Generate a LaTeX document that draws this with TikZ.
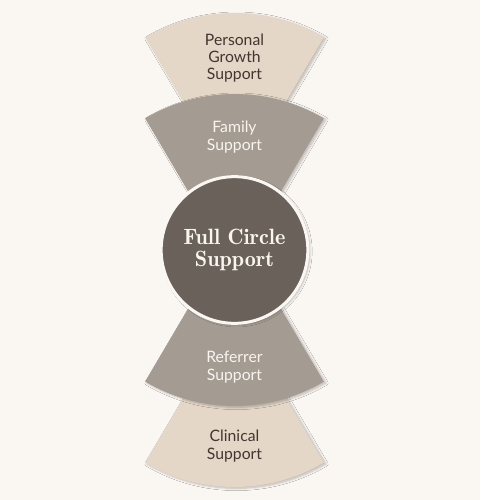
\documentclass[tikz,border=0pt]{standalone}
\usepackage{fontspec}
\newfontfamily\latofont{Lato}
\newfontfamily\hubfont{lmromandemi10-regular.otf}
\usetikzlibrary{shadows.blur}
\definecolor{paper}{RGB}{250,246,242}
\definecolor{sandfill}{RGB}{228,215,199}
\definecolor{taupefill}{RGB}{164,156,146}
\definecolor{hubfill}{RGB}{106,97,90}
\definecolor{darktext}{RGB}{66,55,48}
\definecolor{lighttext}{RGB}{248,244,238}
\begin{document}
\begin{tikzpicture}
[x=0.75pt,y=0.75pt,
  sectordecorate/.style={blur shadow={shadow xshift=1.5pt,shadow yshift=-1pt,shadow blur steps=6,shadow opacity=25}},
  labeldecorate/.style={align=center,font=\latofont\fontsize{11.8}{13}\selectfont},
  huddecorate/.style={shape=circle,draw=paper,line width=2.25pt,fill=hubfill,
    minimum size=110pt,inner sep=0pt,text=lighttext,align=center,
    font=\hubfont\fontsize{16.6}{17}\selectfont,
    blur shadow={shadow xshift=1.5pt,shadow yshift=-1pt,shadow blur steps=6,shadow opacity=25}}]
\fill[paper] (-234.5,-250) rectangle (245.5,250);
%% sectors, back ones first
\foreach \secname/\apex/\mid/\secfill in {personal/61/90/sandfill, family/-20/90/taupefill,
    clinical/-61/270/sandfill, referrer/20/270/taupefill} {
  \pgfmathsetmacro{\aone}{\mid-30.5}
  \pgfmathsetmacro{\atwo}{\mid+30.5}
  \fill[\secfill,sectordecorate] (0,\apex) ++(\aone:176) arc[start angle=\aone,end angle=\atwo,radius=176]
    -- ([shift={(\atwo:80)}]0,\apex) arc[start angle=\atwo,end angle=\aone,radius=80] -- cycle;
}
%% hub
\node (hub) at (0,0) [huddecorate] {Full Circle\\Support};
%% labels
\node (personaltext) at (0,192) [labeldecorate,text=darktext] {Personal\\Growth\\Support};
\node (familytext) at (0,113) [labeldecorate,text=lighttext] {Family\\Support};
\node (referrertext) at (0,-117) [labeldecorate,text=lighttext] {Referrer\\Support};
\node (clinicaltext) at (0,-196) [labeldecorate,text=darktext] {Clinical\\Support};
\end{tikzpicture}
\end{document}
